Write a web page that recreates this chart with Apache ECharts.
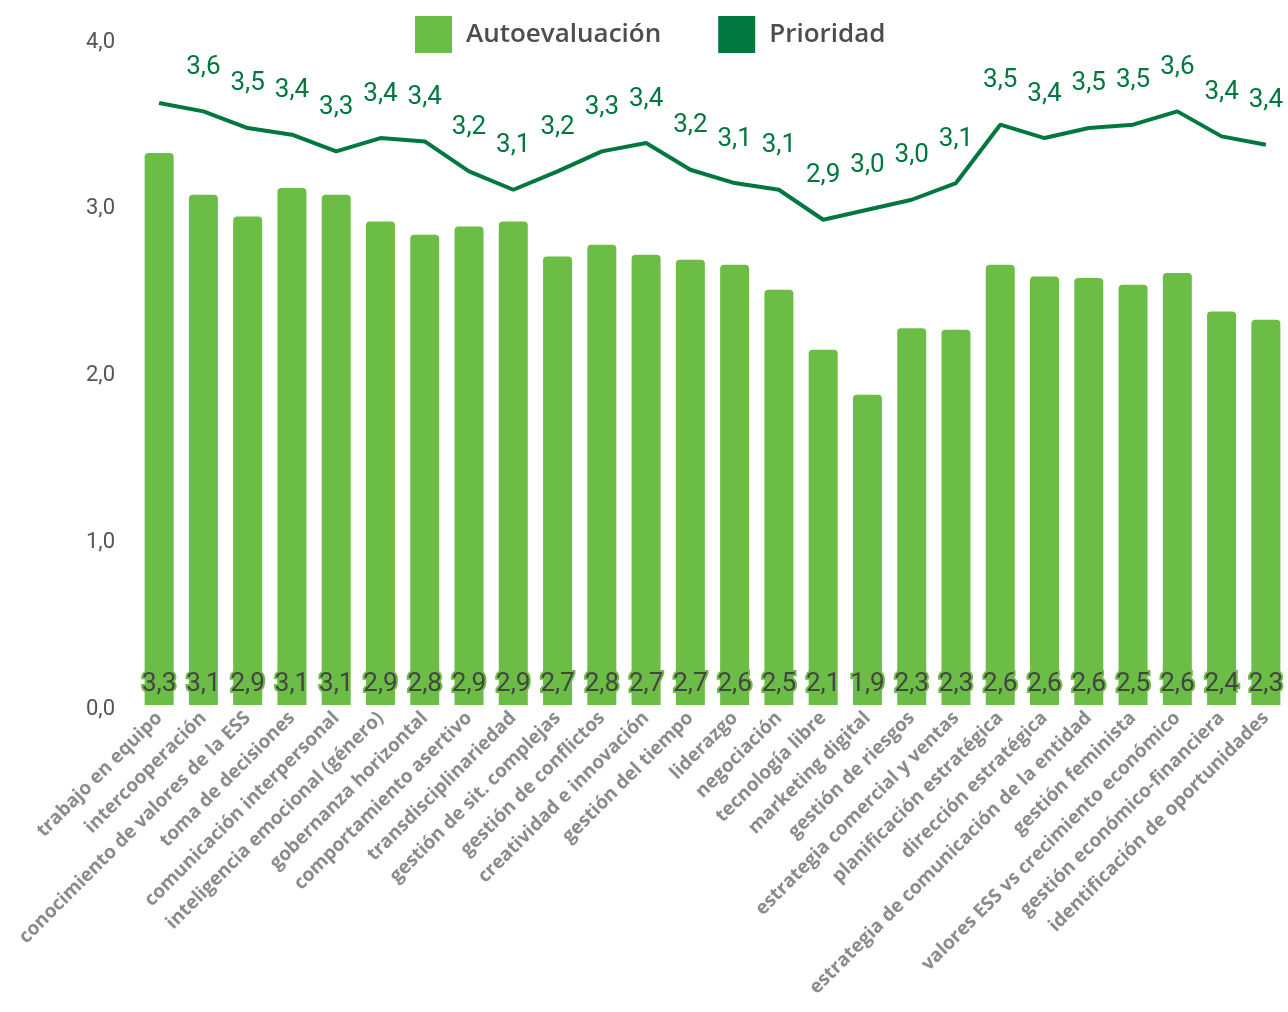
<!DOCTYPE html>
<html>
<head>
<meta charset="utf-8">
<script src="https://cdn.jsdelivr.net/npm/echarts@6/dist/echarts.min.js"></script>
<style>
  html, body { margin: 0; padding: 0; background: #ffffff; }
  #chart { width: 1288px; height: 1012px; }
</style>
</head>
<body>
<div id="chart"></div>
<script>
// Competencias evaluadas
const categories = [
  'trabajo en equipo',
  'intercooperación',
  'conocimiento de valores de la ESS',
  'toma de decisiones',
  'comunicación interpersonal',
  'inteligencia emocional (género)',
  'gobernanza horizontal',
  'comportamiento asertivo',
  'transdisciplinariedad',
  'gestión de sit. complejas',
  'gestión de conflictos',
  'creatividad e innovación',
  'gestión del tiempo',
  'liderazgo',
  'negociación',
  'tecnología libre',
  'marketing digital',
  'gestión de riesgos',
  'estrategia comercial y ventas',
  'planificación estratégica',
  'dirección estratégica',
  'estrategia de comunicación de la entidad',
  'gestión feminista',
  'valores ESS vs crecimiento económico',
  'gestión económico-financiera',
  'identificación de oportunidades'
];

// Autoevaluación media (barras)
const autoevaluacion = [
  3.31, 3.06, 2.93, 3.10, 3.06, 2.90, 2.82, 2.87, 2.90, 2.69,
  2.76, 2.70, 2.67, 2.64, 2.49, 2.13, 1.86, 2.26, 2.25, 2.64,
  2.57, 2.56, 2.52, 2.59, 2.36, 2.31
];

// Prioridad media (línea)
const prioridad = [
  3.61, 3.56, 3.46, 3.42, 3.32, 3.40, 3.38, 3.20, 3.09, 3.20,
  3.32, 3.37, 3.21, 3.13, 3.09, 2.91, 2.97, 3.03, 3.13, 3.48,
  3.40, 3.46, 3.48, 3.56, 3.41, 3.36
];

// Marcas del eje Y
const yTicks = { min: 0, max: 4, interval: 1 };

const seriesNames = ['Autoevaluación', 'Prioridad'];
const colorBar = '#6cbd45';
const colorLine = '#00773f';

const fmt = v => (Math.round(v * 10) / 10).toFixed(1).replace('.', ',');

const chart = echarts.init(document.getElementById('chart'), null, { renderer: 'canvas' });

chart.setOption({
  animation: false,
  backgroundColor: '#ffffff',
  legend: {
    data: seriesNames,
    left: 410,
    top: 11,
    icon: 'rect',
    itemWidth: 37,
    itemHeight: 37,
    itemGap: 57,
    textStyle: {
      fontFamily: 'Open Sans',
      fontWeight: 600,
      fontSize: 26,
      color: '#4d4d4d',
      padding: [0, 0, 0, 9]
    }
  },
  grid: {
    left: 137,
    right: 0,
    top: 38,
    bottom: 307,
    containLabel: false
  },
  xAxis: {
    type: 'category',
    data: categories,
    axisLine: { show: false },
    axisTick: { show: false },
    axisLabel: {
      rotate: 45,
      interval: 0,
      margin: 10,
      fontFamily: 'Open Sans',
      fontWeight: 'bold',
      fontSize: 19,
      color: '#8a8b8e'
    }
  },
  yAxis: {
    type: 'value',
    min: yTicks.min,
    max: yTicks.max,
    interval: yTicks.interval,
    axisLine: { show: false },
    axisTick: { show: false },
    splitLine: { show: false },
    axisLabel: {
      formatter: v => '{t|' + fmt(v) + '}',
      margin: 22,
      rich: {
        t: {
          fontFamily: 'Roboto',
          fontSize: 22,
          color: '#555555',
          padding: [8, 0, 0, 0]
        }
      }
    }
  },
  series: [
    {
      name: seriesNames[0],
      type: 'bar',
      data: autoevaluacion,
      barWidth: 29,
      itemStyle: { color: colorBar, borderRadius: [4, 4, 0, 0] },
      label: {
        show: true,
        position: 'insideBottom',
        distance: 8,
        formatter: p => fmt(p.value),
        fontFamily: 'Roboto',
        fontSize: 26,
        color: '#444444',
        textBorderColor: colorBar,
        textBorderWidth: 4
      },
      z: 2
    },
    {
      name: seriesNames[1],
      type: 'line',
      data: prioridad.map((v, i) => i === 0 ? { value: v, label: { show: false } } : v),
      symbol: 'circle',
      symbolSize: 0.1,
      showSymbol: true,
      lineStyle: { color: colorLine, width: 4 },
      itemStyle: { color: colorLine },
      label: {
        show: true,
        position: 'top',
        distance: 31,
        formatter: p => fmt(p.value),
        fontFamily: 'Roboto',
        fontSize: 26,
        color: colorLine
      },
      labelLayout: { hideOverlap: false },
      z: 3
    }
  ]
});
</script>
</body>
</html>
